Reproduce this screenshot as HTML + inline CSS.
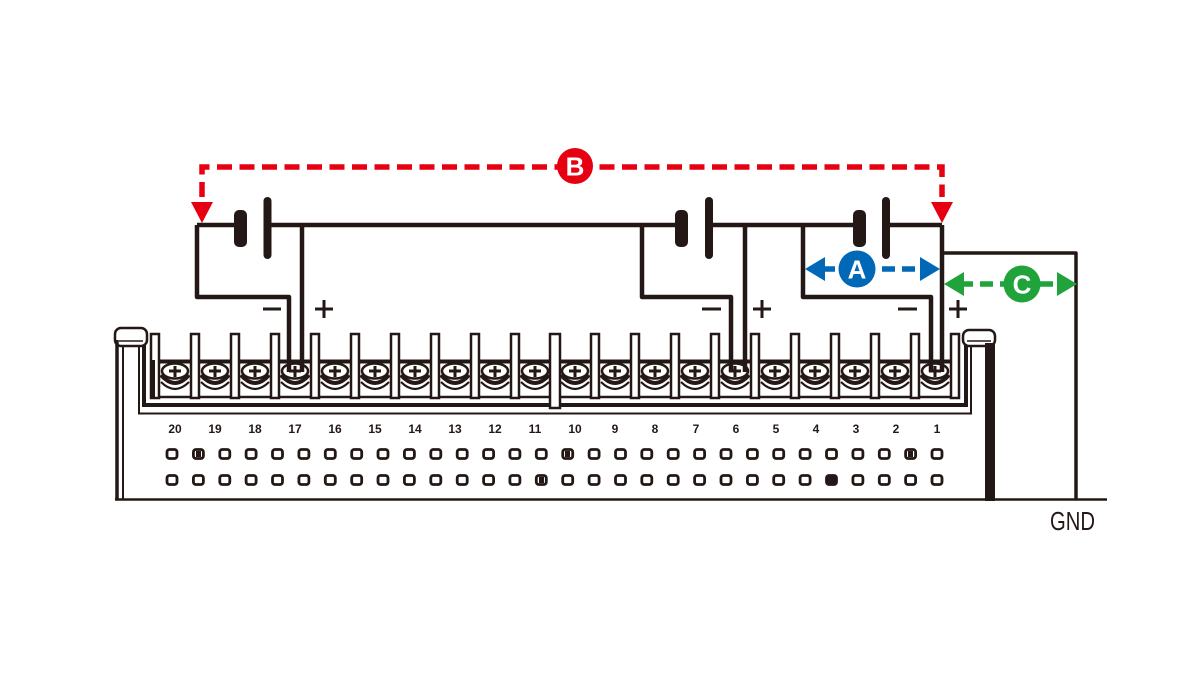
<!DOCTYPE html>
<html>
<head>
<meta charset="utf-8">
<style>
  html, body { margin: 0; padding: 0; background: #ffffff; }
  body { width: 1200px; height: 675px; overflow: hidden; }
  svg { display: block; }
  .lbl { font-family: "Liberation Sans", sans-serif; font-weight: bold; fill: #fff; }
  .num { font-family: "Liberation Sans", sans-serif; font-weight: bold; font-size: 12px; fill: #231815; }
</style>
</head>
<body>
<svg width="1200" height="675" viewBox="0 0 1200 675" xmlns="http://www.w3.org/2000/svg">
  <defs>
    <g id="post">
      <rect x="-4" y="334" width="8" height="64" fill="#fff" stroke="#231815" stroke-width="2.5"/>
    </g>
    <g id="cell" stroke="#231815" fill="none">
      <path d="M-16,361.5 H16" stroke-width="4"/>
      <path d="M-16,397 H16" stroke-width="2.5"/>
      <ellipse cx="0" cy="371" rx="13" ry="7.5" fill="#fff" stroke-width="2.5"/>
      <path d="M-6,371 H6 M0,366 V377" stroke-width="3"/>
      <path d="M-14,375 Q0,391 14,375" stroke-width="4"/>
      <path d="M-14,382 Q0,396 14,382" stroke-width="2.2"/>
    </g>
    <rect id="dot" x="-5" y="-4.5" width="10" height="9" rx="2.5" fill="#fff" stroke="#231815" stroke-width="2.8"/>
  </defs>

  <!-- ===== Housing ===== -->
  <g stroke="#231815" fill="none">
    <rect x="115" y="328" width="32" height="18" rx="6" fill="#fff" stroke-width="2.5"/>
    <path d="M119,341 H143" stroke-width="1.5"/>
    <path d="M117,340 V500" stroke-width="3.5"/>
    <path d="M123,345 V500" stroke-width="2"/>
    <path d="M144,345 V407" stroke-width="4"/>
    <path d="M139,345 V414" stroke-width="2"/>
    <rect x="963" y="330" width="32" height="16" rx="6" fill="#fff" stroke-width="2.5"/>
    <path d="M967,341 H991" stroke-width="1.5"/>
    <path d="M966,345 V407" stroke-width="4"/>
    <path d="M971,345 V414" stroke-width="2"/>
    <path d="M142,405 H968" stroke-width="4"/>
    <path d="M138,413.5 H972" stroke-width="2"/>
    <path d="M115,499.5 H1107" stroke-width="2.5"/>
  </g>
  <rect x="985" y="343" width="10" height="158" fill="#231815"/>

  <!-- ===== Posts ===== -->
  <use href="#post" x="155"/><use href="#post" x="195"/><use href="#post" x="235"/><use href="#post" x="275"/>
  <use href="#post" x="315"/><use href="#post" x="355"/><use href="#post" x="395"/><use href="#post" x="435"/>
  <use href="#post" x="475"/><use href="#post" x="515"/><use href="#post" x="595"/>
  <use href="#post" x="635"/><use href="#post" x="675"/><use href="#post" x="715"/><use href="#post" x="755"/>
  <use href="#post" x="795"/><use href="#post" x="835"/><use href="#post" x="875"/><use href="#post" x="915"/>
  <use href="#post" x="955"/>
  <rect x="550" y="334" width="10" height="74" fill="#fff" stroke="#231815" stroke-width="2.5"/>
  <rect x="151" y="360" width="4" height="38" fill="#231815"/>

  <!-- ===== Cells ===== -->
  <use href="#cell" x="175"/><use href="#cell" x="215"/><use href="#cell" x="255"/><use href="#cell" x="295"/>
  <use href="#cell" x="335"/><use href="#cell" x="375"/><use href="#cell" x="415"/><use href="#cell" x="455"/>
  <use href="#cell" x="495"/><use href="#cell" x="535"/><use href="#cell" x="575"/><use href="#cell" x="615"/>
  <use href="#cell" x="655"/><use href="#cell" x="695"/><use href="#cell" x="735"/><use href="#cell" x="775"/>
  <use href="#cell" x="815"/><use href="#cell" x="855"/><use href="#cell" x="895"/><use href="#cell" x="935"/>

  <!-- ===== Numbers ===== -->
  <g class="num" text-anchor="middle">
    <text x="175" y="433">20</text><text x="215" y="433">19</text><text x="255" y="433">18</text><text x="295" y="433">17</text>
    <text x="335" y="433">16</text><text x="375" y="433">15</text><text x="415" y="433">14</text><text x="455" y="433">13</text>
    <text x="495" y="433">12</text><text x="535" y="433">11</text><text x="575" y="433">10</text><text x="615" y="433">9</text>
    <text x="655" y="433">8</text><text x="696" y="433">7</text><text x="736" y="433">6</text><text x="776" y="433">5</text>
    <text x="816" y="433">4</text><text x="856" y="433">3</text><text x="896" y="433">2</text><text x="937" y="433">1</text>
  </g>

  <!-- ===== Dot rows ===== -->
  <g transform="translate(0,454)">
    <use href="#dot" x="172"/><use href="#dot" x="198.4"/><use href="#dot" x="224.8"/><use href="#dot" x="251.1"/>
    <use href="#dot" x="277.5"/><use href="#dot" x="303.9"/><use href="#dot" x="330.3"/><use href="#dot" x="356.7"/>
    <use href="#dot" x="383"/><use href="#dot" x="409.4"/><use href="#dot" x="435.8"/><use href="#dot" x="462.2"/>
    <use href="#dot" x="488.6"/><use href="#dot" x="514.9"/><use href="#dot" x="541.3"/><use href="#dot" x="567.7"/>
    <use href="#dot" x="594.1"/><use href="#dot" x="620.5"/><use href="#dot" x="646.8"/><use href="#dot" x="673.2"/>
    <use href="#dot" x="699.6"/><use href="#dot" x="726"/><use href="#dot" x="752.4"/><use href="#dot" x="778.7"/>
    <use href="#dot" x="805.1"/><use href="#dot" x="831.5"/><use href="#dot" x="857.9"/><use href="#dot" x="884.3"/>
    <use href="#dot" x="910.6"/><use href="#dot" x="937"/>
    <rect x="565" y="-3" width="5" height="6" fill="#231815"/>
    <rect x="196" y="-3" width="5" height="6" fill="#231815"/>
    <rect x="908" y="-3" width="5" height="6" fill="#231815"/>
  </g>
  <g transform="translate(0,480)">
    <use href="#dot" x="172"/><use href="#dot" x="198.4"/><use href="#dot" x="224.8"/><use href="#dot" x="251.1"/>
    <use href="#dot" x="277.5"/><use href="#dot" x="303.9"/><use href="#dot" x="330.3"/><use href="#dot" x="356.7"/>
    <use href="#dot" x="383"/><use href="#dot" x="409.4"/><use href="#dot" x="435.8"/><use href="#dot" x="462.2"/>
    <use href="#dot" x="488.6"/><use href="#dot" x="514.9"/><use href="#dot" x="541.3"/><use href="#dot" x="567.7"/>
    <use href="#dot" x="594.1"/><use href="#dot" x="620.5"/><use href="#dot" x="646.8"/><use href="#dot" x="673.2"/>
    <use href="#dot" x="699.6"/><use href="#dot" x="726"/><use href="#dot" x="752.4"/><use href="#dot" x="778.7"/>
    <use href="#dot" x="805.1"/><use href="#dot" x="831.5"/><use href="#dot" x="857.9"/><use href="#dot" x="884.3"/>
    <use href="#dot" x="910.6"/><use href="#dot" x="937"/>
    <rect x="826" y="-4" width="11" height="8" rx="2" fill="#231815"/>
    <rect x="539" y="-3" width="5" height="6" fill="#231815"/>
  </g>

  <!-- ===== Wiring ===== -->
  <g stroke="#231815" stroke-width="4.5" fill="none" stroke-linejoin="round">
    <path d="M197,225 H236"/>
    <path d="M267,225 H677"/>
    <path d="M709,225 H855"/>
    <path d="M886,225 H942"/>
    <path d="M197,225 V297 H289 V372"/>
    <path d="M302,225 V372"/>
    <path d="M642,225 V297 H731 V372"/>
    <path d="M745,225 V372"/>
    <path d="M803,225 V297 H931 V372"/>
    <path d="M942,225 V372"/>
    <path d="M942,253 H1076 V499" stroke-width="3.5"/>
  </g>
  <g fill="#231815">
    <rect x="234" y="210" width="13" height="37" rx="5"/>
    <rect x="263.5" y="197" width="8" height="62" rx="4"/>
    <rect x="675" y="210" width="13" height="37" rx="5"/>
    <rect x="705" y="197" width="8" height="62" rx="4"/>
    <rect x="853" y="210" width="13" height="37" rx="5"/>
    <rect x="882" y="197" width="8" height="62" rx="4"/>
    <rect x="263" y="307.5" width="18" height="3"/>
    <rect x="702" y="307.5" width="19" height="3"/>
    <rect x="898" y="307.5" width="19" height="3"/>
    <rect x="315" y="307.5" width="18" height="3"/><rect x="322.5" y="300" width="3" height="18"/>
    <rect x="753" y="307.5" width="18" height="3"/><rect x="760.5" y="300" width="3" height="18"/>
    <rect x="949" y="307.5" width="18" height="3"/><rect x="956.5" y="300" width="3" height="18"/>
  </g>

  <text x="1050" y="530" font-family="Liberation Sans, sans-serif" font-size="26" fill="#231815" textLength="45" lengthAdjust="spacingAndGlyphs">GND</text>

  <!-- ===== B (red) ===== -->
  <path d="M202,197 V167 H942 V197" stroke="#e60012" stroke-width="5.5" fill="none" stroke-dasharray="15 7.5"/>
  <polygon points="191,202 213,202 202,223" fill="#e60012"/>
  <polygon points="931,202 953,202 942,223" fill="#e60012"/>
  <circle cx="575" cy="166" r="18" fill="#e60012"/>
  <text x="575" y="175.5" class="lbl" font-size="26" text-anchor="middle">B</text>

  <!-- ===== A (blue) ===== -->
  <path d="M822,269 H924" stroke="#0068b7" stroke-width="5.5" fill="none" stroke-dasharray="13 7"/>
  <polygon points="805,269 825,257 825,281" fill="#0068b7"/>
  <polygon points="940,269 920,257 920,281" fill="#0068b7"/>
  <circle cx="857" cy="269" r="18.5" fill="#0068b7"/>
  <text x="857" y="278.5" class="lbl" font-size="26" text-anchor="middle">A</text>

  <!-- ===== C (green) ===== -->
  <path d="M960,284 H1060" stroke="#1fa33a" stroke-width="5.5" fill="none" stroke-dasharray="13 7"/>
  <polygon points="944,284 964,272 964,296" fill="#1fa33a"/>
  <polygon points="1077,284 1057,272 1057,296" fill="#1fa33a"/>
  <circle cx="1022" cy="284" r="18.5" fill="#1fa33a"/>
  <text x="1022" y="293.5" class="lbl" font-size="26" text-anchor="middle">C</text>
</svg>
</body>
</html>
